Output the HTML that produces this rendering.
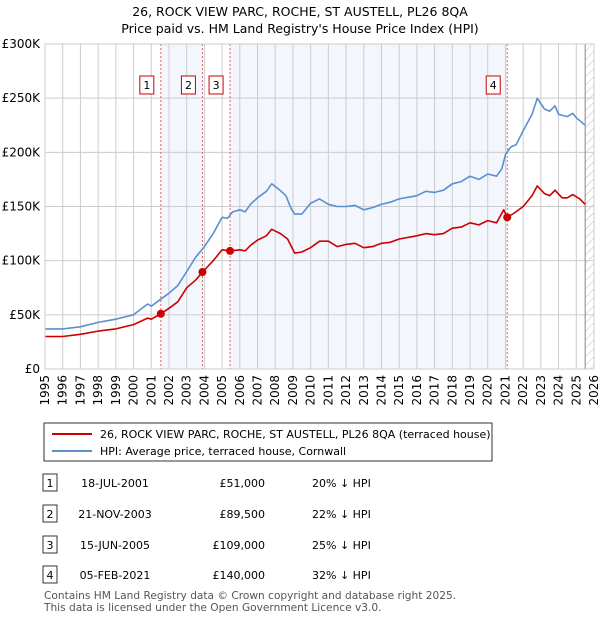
<!DOCTYPE html>
<html><head><meta charset="utf-8"><style>
body{margin:0;background:#fff;font-family:"Liberation Sans","DejaVu Sans",sans-serif;color:#222}
svg text{font-family:"DejaVu Sans","Liberation Sans",sans-serif}
</style></head><body>
<svg id="c" width="600" height="620" xmlns="http://www.w3.org/2000/svg">
<text x="300" y="16" font-size="12.5" text-anchor="middle">26, ROCK VIEW PARC, ROCHE, ST AUSTELL, PL26 8QA</text>
<text x="300" y="33" font-size="12.5" text-anchor="middle">Price paid vs. HM Land Registry's House Price Index (HPI)</text>
<g id="plot"></g>
<rect x="44" y="423" width="448" height="38" fill="#fff" stroke="#333"/>
<line x1="52" y1="434" x2="92" y2="434" stroke="#cc0000" stroke-width="2"/>
<text x="100" y="438" font-size="11">26, ROCK VIEW PARC, ROCHE, ST AUSTELL, PL26 8QA (terraced house)</text>
<line x1="52" y1="451" x2="92" y2="451" stroke="#5b8fd0" stroke-width="2"/>
<text x="100" y="455" font-size="11">HPI: Average price, terraced house, Cornwall</text>
<g id="tbl"></g>
<text x="44" y="599" font-size="10.6" fill="#555">Contains HM Land Registry data © Crown copyright and database right 2025.</text>
<text x="44" y="611" font-size="10.6" fill="#555">This data is licensed under the Open Government Licence v3.0.</text>
</svg>
<script>
const hpiYears=[1995,1996,1997,1998,1999,2000,2000.8,2001,2001.5,2002,2002.5,2003,2003.5,2004,2004.5,2005,2005.3,2005.6,2006,2006.3,2006.6,2007,2007.5,2007.8,2008.2,2008.6,2008.9,2009.1,2009.5,2010,2010.5,2011,2011.5,2012,2012.5,2013,2013.5,2014,2014.5,2015,2016,2016.5,2017,2017.5,2018,2018.5,2019,2019.5,2020,2020.5,2020.8,2021,2021.3,2021.6,2022,2022.5,2022.8,2023.2,2023.5,2023.8,2024,2024.5,2024.8,2025,2025.5];
const hpiValues=[37,37,39,43,46,50,60,58,64,70,77,90,103,113,125,140,139,145,147,145,152,158,164,171,166,160,148,143,143,153,157,152,150,150,151,147,149,152,154,157,160,164,163,165,171,173,178,175,180,178,185,198,205,207,220,235,250,240,238,243,235,233,236,232,225];
const priceYears=[1995,1996,1997,1998,1999,2000,2000.8,2001,2001.54,2002,2002.5,2003,2003.5,2003.9,2004.5,2005,2005.45,2006,2006.3,2006.6,2007,2007.5,2007.8,2008.3,2008.7,2009.1,2009.5,2010,2010.5,2011,2011.5,2012,2012.5,2013,2013.5,2014,2014.5,2015,2016,2016.5,2017,2017.5,2018,2018.5,2019,2019.5,2020,2020.5,2020.9,2021.1,2021.5,2022,2022.5,2022.8,2023.2,2023.5,2023.8,2024.2,2024.5,2024.8,2025.2,2025.5];
const priceValues=[30,30,32,35,37,41,47,46,51,56,62,75,82,89.5,100,110,109,110,109,114,119,123,129,125,120,107,108,112,118,118,113,115,116,112,113,116,117,120,123,125,124,125,130,131,135,133,137,135,147,140,144,150,160,169,162,160,165,158,158,161,157,152];
const saleLabels=["1","2","3","4"];
const saleDates=[2001.54,2003.89,2005.45,2021.1];
const saleValues=[51,89.5,109,140];
const saleDateText=["18-JUL-2001","21-NOV-2003","15-JUN-2005","05-FEB-2021"];
const salePriceText=["£51,000","£89,500","£109,000","£140,000"];
const saleHpiText=["20% ↓ HPI","22% ↓ HPI","25% ↓ HPI","32% ↓ HPI"];
const yTicks=[0,50,100,150,200,250,300];
const yTickLabels=["£0","£50K","£100K","£150K","£200K","£250K","£300K"];

const X0=45,X1=594,Y0=369,Y1=44,xMin=1995,xMax=2026,yMax=300;
const xs=v=>X0+(v-xMin)/(xMax-xMin)*(X1-X0);
const ys=v=>Y0-v/yMax*(Y0-Y1);
const NS="http://www.w3.org/2000/svg";
const plot=document.getElementById('plot');
function mk(tag,attrs,parent){const e=document.createElementNS(NS,tag);for(const k in attrs)e.setAttribute(k,attrs[k]);(parent||plot).appendChild(e);return e;}

const bands=[[0,1],[2,3]];
bands.forEach((b,i)=>{const r=mk('rect',{x:xs(saleDates[b[0]]),y:Y1,width:xs(saleDates[b[1]])-xs(saleDates[b[0]]),height:Y0-Y1,fill:'#f3f6fd'});

});
const defs=mk('defs',{});
const pat=mk('pattern',{id:'h',width:6,height:6,patternUnits:'userSpaceOnUse',patternTransform:'rotate(45)'},defs);
mk('line',{x1:0,y1:0,x2:0,y2:6,stroke:'#bbb','stroke-width':1},pat);
const hr=mk('rect',{x:xs(2025.5),y:Y1,width:X1-xs(2025.5),height:Y0-Y1,fill:'url(#h)'});


for(let yr=xMin;yr<=xMax;yr++){const l=mk('line',{x1:xs(yr),x2:xs(yr),y1:Y1,y2:Y0,stroke:'#ccc','stroke-width':1});


const t=mk('text',{x:0,y:0,'font-size':12,'text-anchor':'end',transform:`translate(${xs(yr)+4},${Y0+6}) rotate(-90)`});t.textContent=yr;

}
yTicks.forEach((v,i)=>{const l=mk('line',{x1:X0,x2:X1,y1:ys(v),y2:ys(v),stroke:'#ccc','stroke-width':1});


const t=mk('text',{x:40,y:ys(v)+4,'font-size':12,'text-anchor':'end'});t.textContent=yTickLabels[i];

});
mk('line',{x1:xs(2025.5),x2:xs(2025.5),y1:Y1,y2:Y0,stroke:'#888','stroke-width':1});
saleDates.forEach((d,i)=>{const l=mk('line',{x1:xs(d),x2:xs(d),y1:Y1,y2:Y0,stroke:'#e06060','stroke-width':1,'stroke-dasharray':'2,2'});


const g=mk('g',{});


mk('rect',{x:xs(d)-21,y:76,width:14,height:18,fill:'#fff',stroke:'#cc0000'},g);
const t=mk('text',{x:xs(d)-14,y:89,'font-size':11,'text-anchor':'middle'},g);t.textContent=saleLabels[i];});
function line(xa,va,col,name){const p=mk('path',{d:xa.map((x,i)=>(i?'L':'M')+xs(x).toFixed(1)+','+ys(va[i]).toFixed(1)).join(''),fill:'none',stroke:col,'stroke-width':1.6,'stroke-linejoin':'round'});

}
line(hpiYears,hpiValues,'#5b8fd0','hpi-line');
line(priceYears,priceValues,'#cc0000','price-paid-line');
saleDates.forEach((d,i)=>{const c=mk('circle',{cx:xs(d),cy:ys(saleValues[i]),r:4,fill:'#cc0000'});

});
mk('rect',{x:X0,y:Y1,width:X1-X0,height:Y0-Y1,fill:'none',stroke:'#ccc'});
const tbl=document.getElementById('tbl');
const rowY=[483,514,545,575];
saleLabels.forEach((lab,i)=>{const g=mk('g',{},tbl);


const y=rowY[i];
mk('rect',{x:43,y:y-9,width:14,height:17,fill:'#fff',stroke:'#333'},g);
const cells=[[50,lab,'middle'],[115,saleDateText[i],'middle'],[265,salePriceText[i],'end'],[312,saleHpiText[i],'start']];
cells.forEach(c=>{const t=mk('text',{x:c[0],y:y+4,'font-size':11,'text-anchor':c[2]},g);t.textContent=c[1];});});
</script>
</body></html>
